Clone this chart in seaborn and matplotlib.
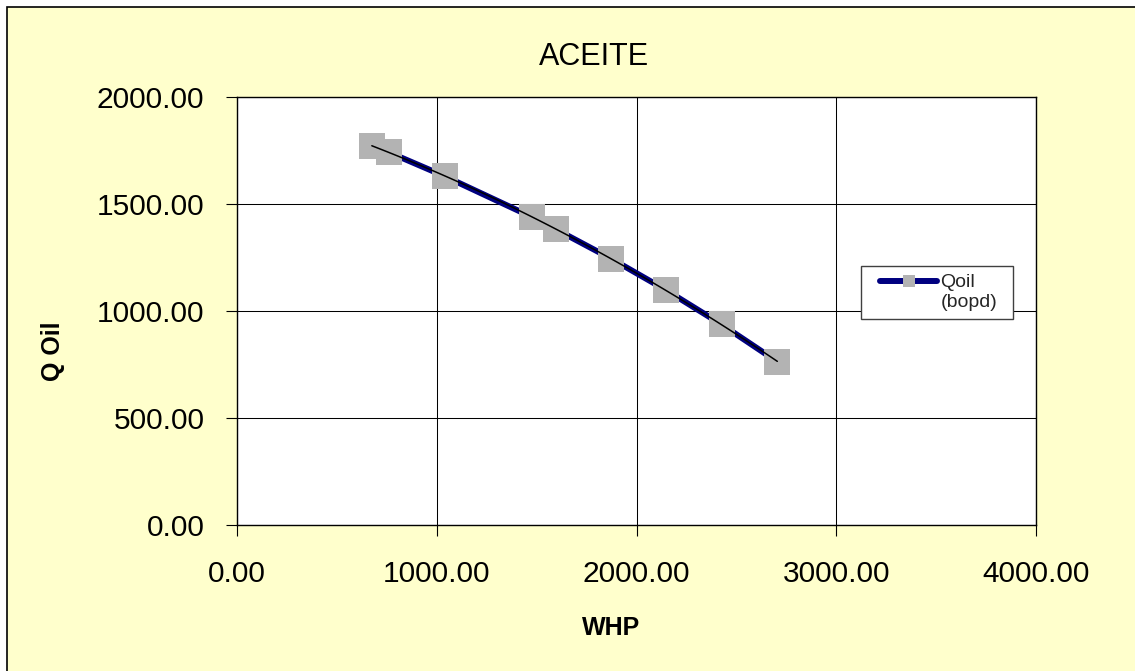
import numpy as np
import pandas as pd
import matplotlib
matplotlib.use("Agg")
import matplotlib.pyplot as plt
import seaborn as sns
from matplotlib.patches import Rectangle
from matplotlib.offsetbox import HPacker
from matplotlib.legend_handler import HandlerLine2D
from matplotlib.ticker import FixedLocator, StrMethodFormatter

# Well test: wellhead pressure vs oil rate
whp = [675, 762, 1039, 1479, 1596, 1872, 2149, 2426, 2705]
qoil = [1773, 1741, 1630, 1438, 1382, 1245, 1097, 937, 763]
series_label = "Qoil\n(bopd)"
x_ticks = [0, 1000, 2000, 3000, 4000]
y_ticks = [0, 500, 1000, 1500, 2000]
chart_title = "ACEITE"
x_title = "WHP"
y_title = "Q Oil"

df = pd.DataFrame({"WHP": whp, "Qoil": qoil})

sns.set_theme(style="white")
plt.rcParams["font.family"] = ["Liberation Sans", "DejaVu Sans"]

W, H = 1135, 671
fig = plt.figure(figsize=(W / 100, H / 100), dpi=100, facecolor="white")

# chart area: pale yellow panel with a dark border
fig.add_artist(Rectangle((7 / W, -0.1), 1.2, 1 - 7 / H + 0.1,
                         transform=fig.transFigure, facecolor="#FFFFCC",
                         edgecolor="black", lw=1.2, zorder=-10))

ax = fig.add_axes([237 / W, 1 - 525 / H, 799 / W, 428 / H])
ax.set_facecolor("white")

sns.lineplot(data=df, x="WHP", y="Qoil", ax=ax, color="#000080", lw=4.3,
             marker="s", markersize=18.5, markerfacecolor="#B3B3B3",
             markeredgewidth=0, errorbar=None, label=series_label, zorder=3)
series_line = ax.lines[0]

# second-order trend line through the same points
sns.regplot(data=df, x="WHP", y="Qoil", ax=ax, order=2, ci=None,
            scatter=False, truncate=True,
            line_kws=dict(color="black", lw=1.1, zorder=4))

ax.set_xlim(x_ticks[0], x_ticks[-1])
ax.set_ylim(y_ticks[0], y_ticks[-1])
ax.xaxis.set_major_locator(FixedLocator(x_ticks))
ax.yaxis.set_major_locator(FixedLocator(y_ticks))
ax.xaxis.set_major_formatter(StrMethodFormatter("{x:.2f}"))
ax.yaxis.set_major_formatter(StrMethodFormatter("{x:.2f}"))
ax.set_xlabel("")
ax.set_ylabel("")

ax.grid(True, color="black", lw=0.75)
ax.set_axisbelow(True)
for sp in ax.spines.values():
    sp.set_color("black")
    sp.set_linewidth(1.0)

ax.tick_params(axis="both", which="major", bottom=True, left=True,
               direction="out", length=8, width=0.8, color="black",
               labelsize=21.5, labelcolor="black")
ax.tick_params(axis="x", pad=17)
ax.tick_params(axis="y", pad=15.5)

# titles
fig.text(594 / W, 1 - 65 / H, chart_title, ha="center", va="baseline",
         fontsize=22, color="black")
fig.text(611.5 / W, 1 - 635 / H, x_title, ha="center", va="baseline",
         fontsize=18, fontweight="bold", color="black")
fig.text(60 / W, 1 - 351 / H, y_title, ha="center", va="baseline",
         rotation=90, rotation_mode="anchor", fontsize=18,
         fontweight="bold", color="black")

# legend
leg = ax.legend(handles=[series_line], labels=[series_label],
                loc="upper left",
                bbox_to_anchor=(861 / W, 1 - 315 / H, 152 / W, 49 / H),
                bbox_transform=fig.transFigure, mode="expand",
                borderaxespad=0, fontsize=14, frameon=True, fancybox=False,
                framealpha=1, edgecolor="#404040", borderpad=0.41,
                handlelength=3.51, handletextpad=0.16, markerscale=0.43,
                numpoints=1,
                handler_map={series_line: HandlerLine2D(xpad=0.59)})
leg.get_frame().set_linewidth(1.0)
for t in leg.get_texts():
    t.set_linespacing(1.25)
for hp in leg.findobj(HPacker):
    hp.align = "top"

fig.savefig("out.png", dpi=100, facecolor=fig.get_facecolor())
